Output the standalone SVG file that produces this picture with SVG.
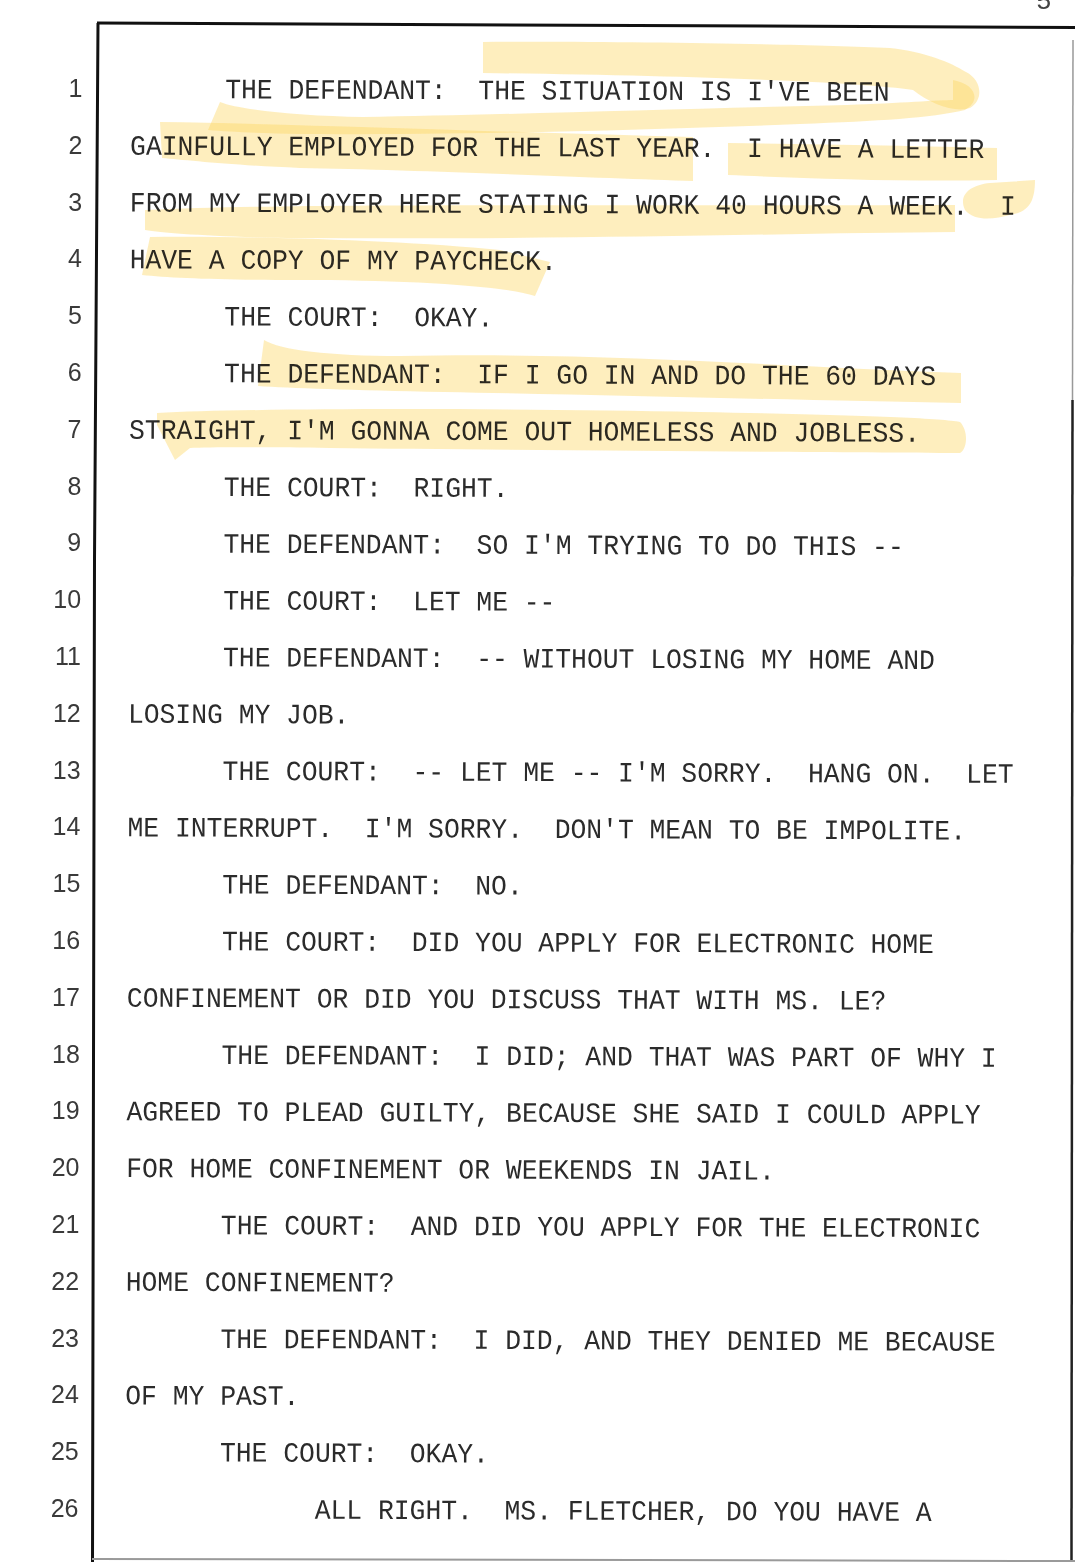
<svg xmlns="http://www.w3.org/2000/svg" width="1075" height="1562" viewBox="0 0 1075 1562" xml:space="preserve">
<style>
.t{font-family:"Liberation Mono","Courier New",monospace;font-size:28px;fill:#2b2b2b;white-space:pre}
.n{font-family:"Liberation Sans",Arial,sans-serif;font-size:25px;fill:#3a3a3a;text-anchor:end}
.hl{fill:#fcd45c;fill-opacity:0.4}
</style>
<rect x="0" y="0" width="1075" height="1562" fill="#ffffff"/>
<g id="page-frame">
<text x="1036" y="9" style="font-family:'Liberation Mono',monospace;font-size:26px;fill:#444">5</text>
<path d="M97,23 L1075,27.5" stroke="#111" stroke-width="3" fill="none"/>
<polyline points="98,23 94.5,560 92.5,1562" stroke="#111" stroke-width="3" fill="none"/>
<path d="M1073,40 L1072.5,400" stroke="#999" stroke-width="1.5" fill="none"/>
<path d="M1072.5,400 L1071.5,1562" stroke="#222" stroke-width="2.5" fill="none"/>
<path d="M92,1559 L1075,1561" stroke="#9a9a9a" stroke-width="2" fill="none"/>
</g>
<g id="line-numbers">
<text class="n" x="82.5" y="97">1</text>
<text class="n" x="82.3" y="153.8">2</text>
<text class="n" x="82.2" y="210.6">3</text>
<text class="n" x="82" y="267.4">4</text>
<text class="n" x="81.9" y="324.2">5</text>
<text class="n" x="81.7" y="381">6</text>
<text class="n" x="81.5" y="437.8">7</text>
<text class="n" x="81.4" y="494.6">8</text>
<text class="n" x="81.2" y="551.4">9</text>
<text class="n" x="81.1" y="608.2">10</text>
<text class="n" x="80.9" y="665">11</text>
<text class="n" x="80.7" y="721.8">12</text>
<text class="n" x="80.6" y="778.6">13</text>
<text class="n" x="80.4" y="835.4">14</text>
<text class="n" x="80.3" y="892.2">15</text>
<text class="n" x="80.1" y="949">16</text>
<text class="n" x="79.9" y="1005.8">17</text>
<text class="n" x="79.8" y="1062.6">18</text>
<text class="n" x="79.6" y="1119.4">19</text>
<text class="n" x="79.5" y="1176.2">20</text>
<text class="n" x="79.3" y="1233">21</text>
<text class="n" x="79.1" y="1289.8">22</text>
<text class="n" x="79" y="1346.6">23</text>
<text class="n" x="78.8" y="1403.4">24</text>
<text class="n" x="78.7" y="1460.2">25</text>
<text class="n" x="78.5" y="1517">26</text>
</g>
<g id="transcript" transform="rotate(0.22 537 780)">
<text class="t" x="222.6" y="99.5" textLength="664.4" lengthAdjust="spacingAndGlyphs">THE DEFENDANT:  THE SITUATION IS I'VE BEEN</text>
<text class="t" x="127.7" y="156.3" textLength="854.3" lengthAdjust="spacingAndGlyphs">GAINFULLY EMPLOYED FOR THE LAST YEAR.  I HAVE A LETTER</text>
<text class="t" x="127.7" y="213.1" textLength="885.9" lengthAdjust="spacingAndGlyphs">FROM MY EMPLOYER HERE STATING I WORK 40 HOURS A WEEK.  I</text>
<text class="t" x="127.7" y="269.9" textLength="427.1" lengthAdjust="spacingAndGlyphs">HAVE A COPY OF MY PAYCHECK.</text>
<text class="t" x="222.6" y="326.7" textLength="268.9" lengthAdjust="spacingAndGlyphs">THE COURT:  OKAY.</text>
<text class="t" x="222.6" y="383.5" textLength="711.9" lengthAdjust="spacingAndGlyphs">THE DEFENDANT:  IF I GO IN AND DO THE 60 DAYS</text>
<text class="t" x="127.7" y="440.3" textLength="791" lengthAdjust="spacingAndGlyphs">STRAIGHT, I'M GONNA COME OUT HOMELESS AND JOBLESS.</text>
<text class="t" x="222.6" y="497.1" textLength="284.8" lengthAdjust="spacingAndGlyphs">THE COURT:  RIGHT.</text>
<text class="t" x="222.6" y="553.9" textLength="680.3" lengthAdjust="spacingAndGlyphs">THE DEFENDANT:  SO I'M TRYING TO DO THIS --</text>
<text class="t" x="222.6" y="610.7" textLength="332.2" lengthAdjust="spacingAndGlyphs">THE COURT:  LET ME --</text>
<text class="t" x="222.6" y="667.5" textLength="711.9" lengthAdjust="spacingAndGlyphs">THE DEFENDANT:  -- WITHOUT LOSING MY HOME AND</text>
<text class="t" x="127.7" y="724.3" textLength="221.5" lengthAdjust="spacingAndGlyphs">LOSING MY JOB.</text>
<text class="t" x="222.6" y="781.1" textLength="791" lengthAdjust="spacingAndGlyphs">THE COURT:  -- LET ME -- I'M SORRY.  HANG ON.  LET</text>
<text class="t" x="127.7" y="837.9" textLength="838.5" lengthAdjust="spacingAndGlyphs">ME INTERRUPT.  I'M SORRY.  DON'T MEAN TO BE IMPOLITE.</text>
<text class="t" x="222.6" y="894.7" textLength="300.6" lengthAdjust="spacingAndGlyphs">THE DEFENDANT:  NO.</text>
<text class="t" x="222.6" y="951.5" textLength="711.9" lengthAdjust="spacingAndGlyphs">THE COURT:  DID YOU APPLY FOR ELECTRONIC HOME</text>
<text class="t" x="127.7" y="1008.3" textLength="759.4" lengthAdjust="spacingAndGlyphs">CONFINEMENT OR DID YOU DISCUSS THAT WITH MS. LE?</text>
<text class="t" x="222.6" y="1065.1" textLength="775.2" lengthAdjust="spacingAndGlyphs">THE DEFENDANT:  I DID; AND THAT WAS PART OF WHY I</text>
<text class="t" x="127.7" y="1121.9" textLength="854.3" lengthAdjust="spacingAndGlyphs">AGREED TO PLEAD GUILTY, BECAUSE SHE SAID I COULD APPLY</text>
<text class="t" x="127.7" y="1178.7" textLength="648.6" lengthAdjust="spacingAndGlyphs">FOR HOME CONFINEMENT OR WEEKENDS IN JAIL.</text>
<text class="t" x="222.6" y="1235.5" textLength="759.4" lengthAdjust="spacingAndGlyphs">THE COURT:  AND DID YOU APPLY FOR THE ELECTRONIC</text>
<text class="t" x="127.7" y="1292.3" textLength="268.9" lengthAdjust="spacingAndGlyphs">HOME CONFINEMENT?</text>
<text class="t" x="222.6" y="1349.1" textLength="775.2" lengthAdjust="spacingAndGlyphs">THE DEFENDANT:  I DID, AND THEY DENIED ME BECAUSE</text>
<text class="t" x="127.7" y="1405.9" textLength="174" lengthAdjust="spacingAndGlyphs">OF MY PAST.</text>
<text class="t" x="222.6" y="1462.7" textLength="268.9" lengthAdjust="spacingAndGlyphs">THE COURT:  OKAY.</text>
<text class="t" x="317.5" y="1519.5" textLength="617" lengthAdjust="spacingAndGlyphs">ALL RIGHT.  MS. FLETCHER, DO YOU HAVE A</text>
</g>
<g id="highlights" style="mix-blend-mode:multiply">
<path class="hl" d="M483,42 C600,41 800,44 890,48 C925,52 950,62 966,72 C982,80 984,100 970,108 C955,113 930,104 913,90 C860,82 700,76 483,73 Z"/>
<path class="hl" d="M953,80 C975,84 982,100 965,110 C930,118 880,121 800,124 C650,130 450,135 300,134 C260,133 230,132 208,130 L220,102 C240,110 300,116 363,117 C500,115 700,108 847,105 C900,103 940,100 953,100 Z"/>
<path class="hl" d="M160,122 C300,124 500,132 693,137 L693,181 C600,178 420,170 300,168 C230,165 185,160 162,158 Z"/>
<path class="hl" d="M728,143 C820,144 920,146 997,148 L997,180 C900,182 800,178 728,175 Z"/>
<path class="hl" d="M145,210 C300,203 550,206 955,205 L955,232 C800,233 560,240 300,238 C210,237 165,233 145,230 Z"/>
<path class="hl" d="M990,183 L1035,180 C1035,200 1030,212 1010,215 C995,219 975,222 965,210 C958,195 970,185 990,183 Z"/>
<path class="hl" d="M150,237 C250,236 400,240 500,250 L550,262 L535,296 C500,285 400,280 300,280 C220,280 170,278 142,275 Z"/>
<path class="hl" d="M264,340 C280,350 330,356 400,356 C600,352 750,365 961,373 L961,403 C800,400 600,395 444,392 C350,390 290,388 258,386 Z"/>
<path class="hl" d="M157,413 C250,408 500,408 700,412 C850,415 940,418 960,422 C968,430 968,448 960,453 C800,452 500,450 330,448 C260,447 210,447 190,448 L175,460 L157,425 Z"/>
</g>
</svg>
